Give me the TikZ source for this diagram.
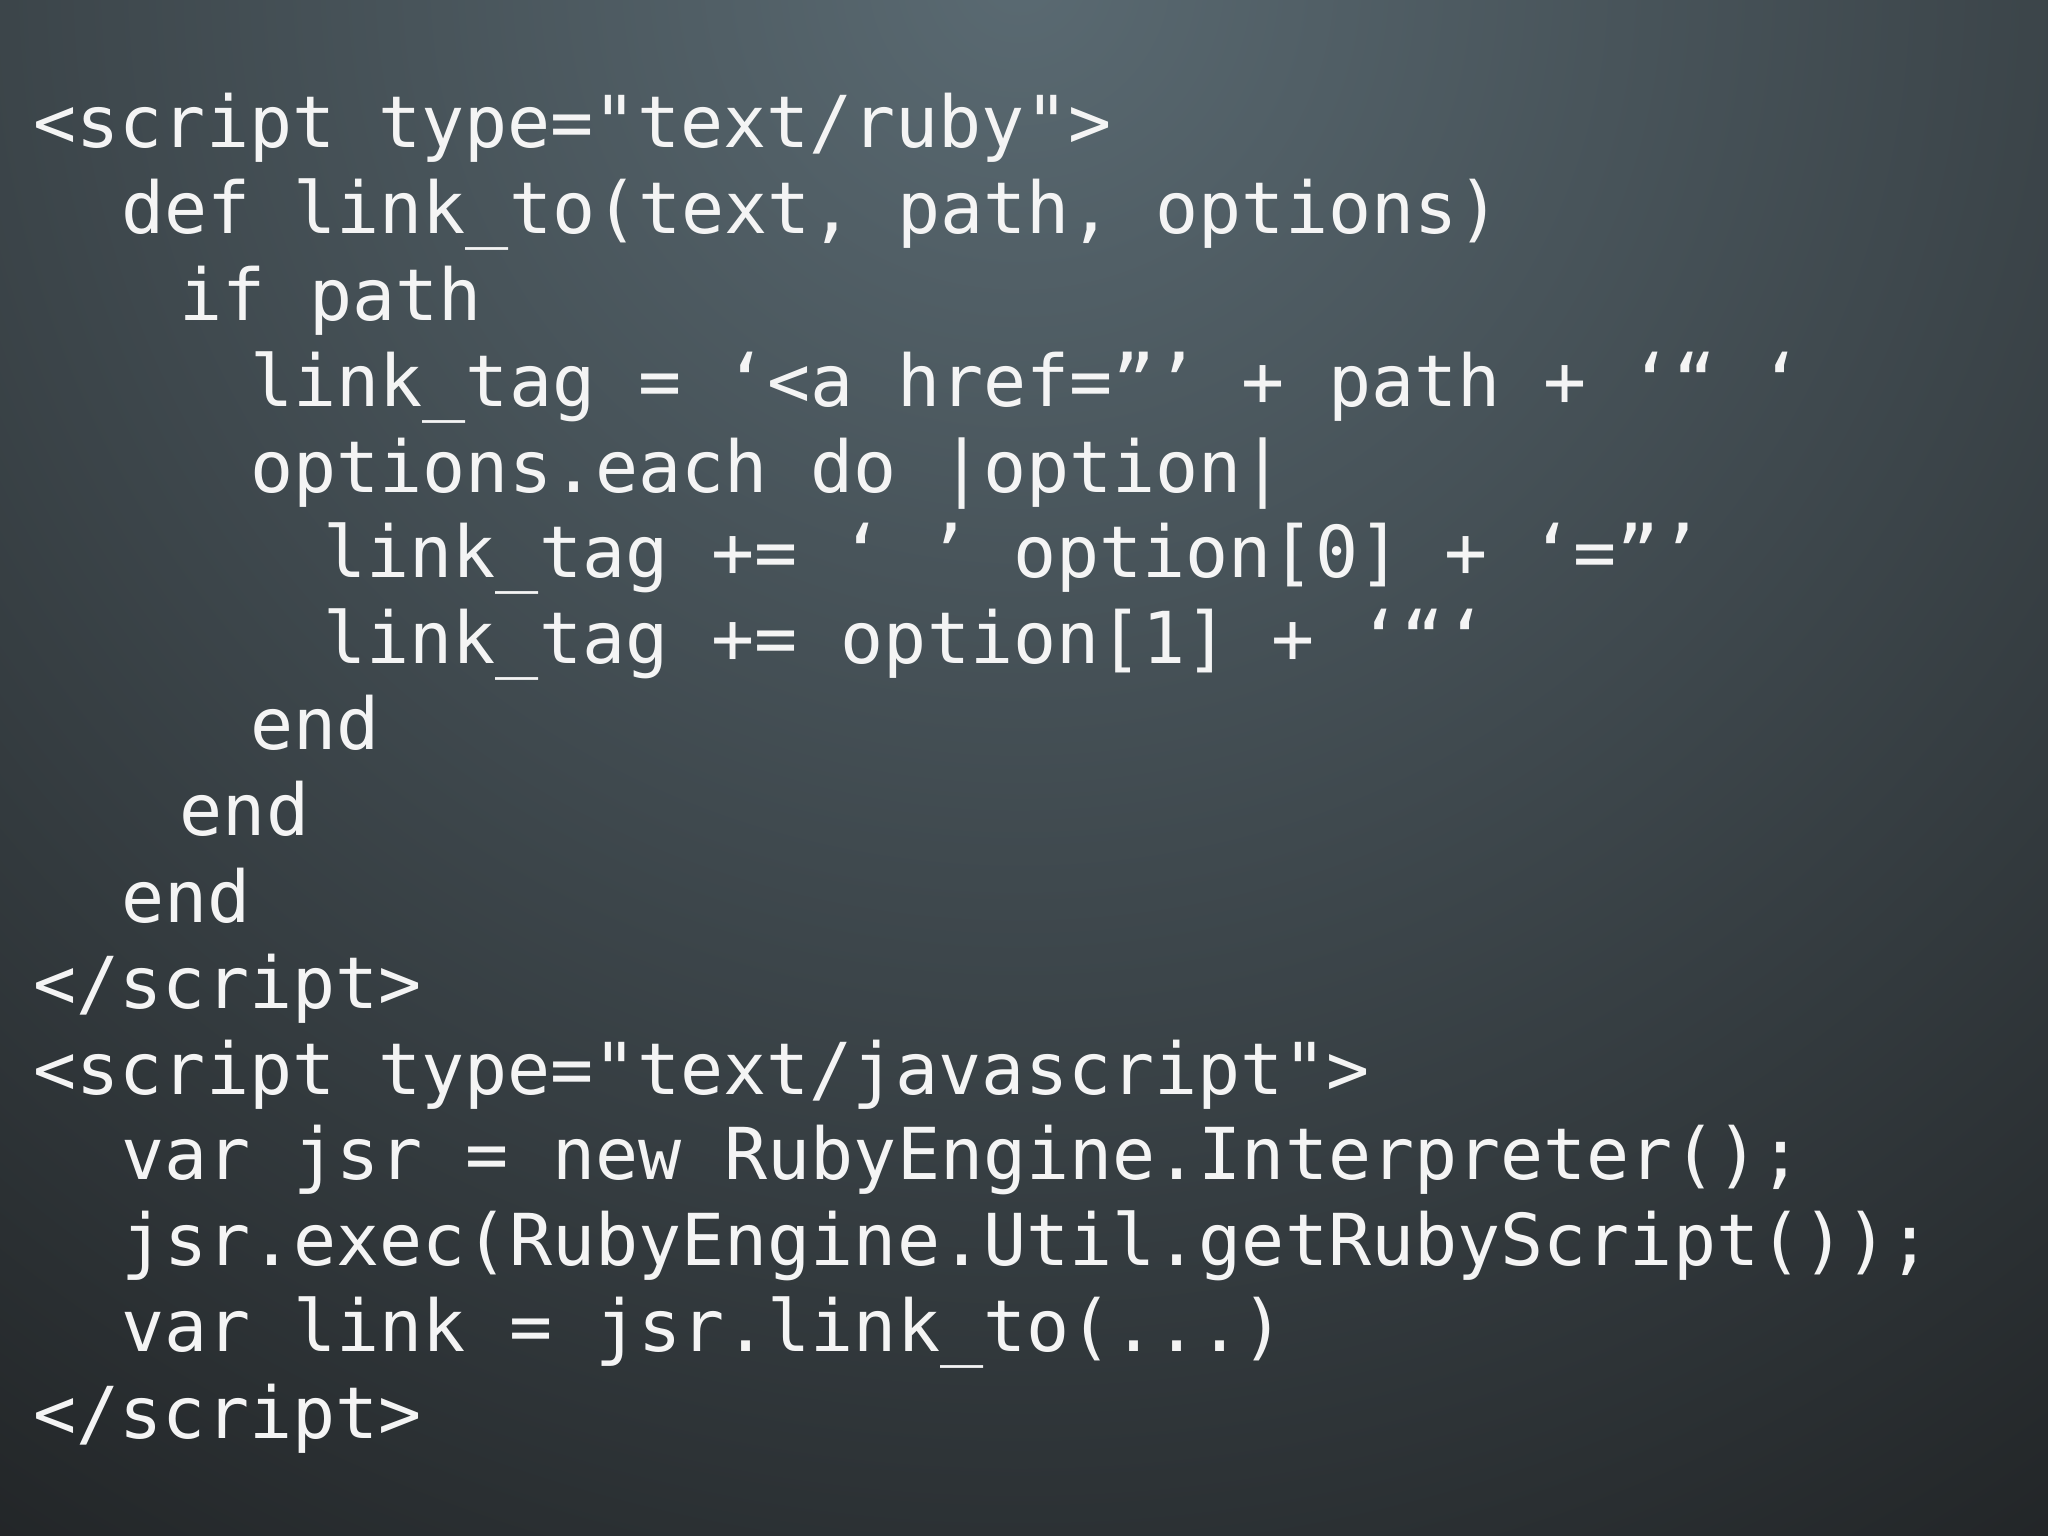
\documentclass[tikz,border=0pt]{standalone}
\usepackage{fontspec}
\newfontfamily\codefont{DejaVu Sans Mono}
\definecolor{bgin}{HTML}{5A6A72}
\definecolor{bgout}{HTML}{18191A}
\definecolor{codecol}{HTML}{F4F4F4}
\begin{document}
\begin{tikzpicture}[x=0.1mm,y=-0.1mm,
  code/.style={anchor=base west,inner sep=0pt,text=codecol,font=\codefont\fontsize{15.6pt}{18pt}\selectfont}]
\useasboundingbox (0,0) rectangle (1568,1176);
\begin{scope}
\clip (0,0) rectangle (1568,1176);
\fill[bgout] (0,0) rectangle (1568,1176);
\shade[inner color=bgin,outer color=bgout] (780,-20) circle (1700);
\end{scope}
\node[code] (l1) at (25,113) {<script type="text/ruby">};
\node[code] (l2) at (92,179) {def link\_to(text, path, options)};
\node[code] (l3) at (137,245) {if path};
\node[code] (l4) at (191,311) {link\_tag = ‘<a href=”’ + path + ‘“ ‘};
\node[code] (l5) at (191,377) {options.each do |option|};
\node[code] (l6) at (247,442) {link\_tag += ‘ ’ option[0] + ‘=”’};
\node[code] (l7) at (247,508) {link\_tag += option[1] + ‘“‘};
\node[code] (l8) at (191,574) {end};
\node[code] (l9) at (137,640) {end};
\node[code] (l10) at (92,706) {end};
\node[code] (l11) at (25,772) {</script>};
\node[code] (l12) at (25,838) {<script type="text/javascript">};
\node[code] (l13) at (92,903) {var jsr = new RubyEngine.Interpreter();};
\node[code] (l14) at (92,969) {jsr.exec(RubyEngine.Util.getRubyScript());};
\node[code] (l15) at (92,1035) {var link = jsr.link\_to(...)};
\node[code] (l16) at (25,1101) {</script>};
\end{tikzpicture}
\end{document}
